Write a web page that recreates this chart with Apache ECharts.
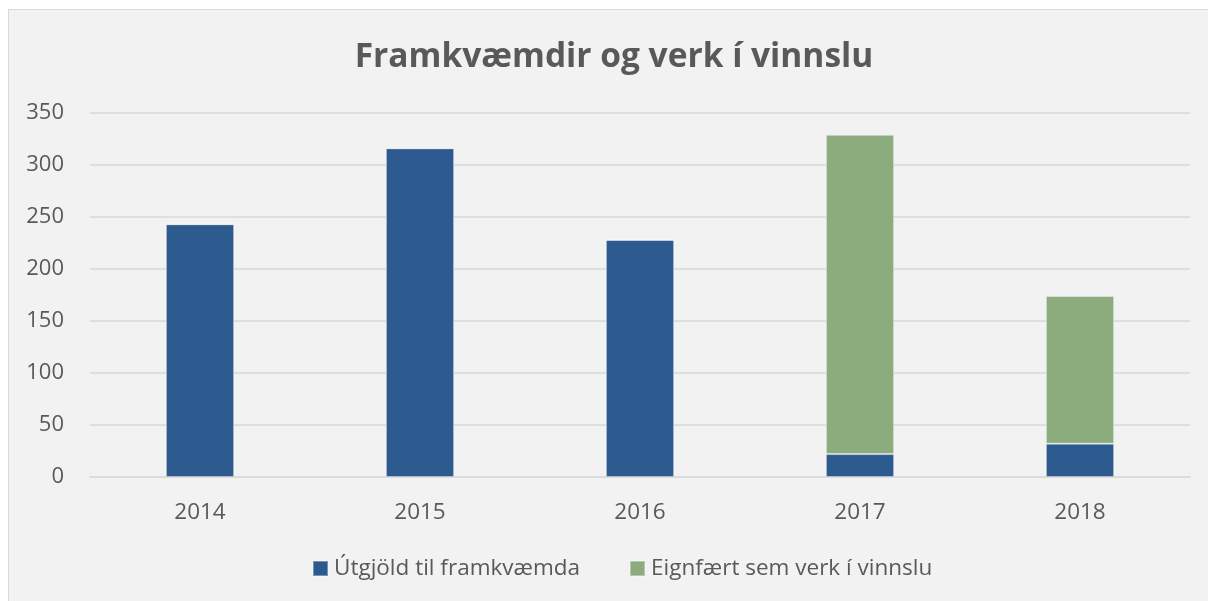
<!DOCTYPE html>
<html>
<head>
<meta charset="utf-8">
<script src="https://cdn.jsdelivr.net/npm/echarts@6/dist/echarts.min.js"></script>
<style>
  html, body { margin: 0; padding: 0; background: #fff; overflow: hidden; }
  #frame { position: absolute; left: 8px; top: 9px; width: 1300px; height: 700px;
           background: #f2f2f2; border: 1px solid #d9d9d9; }
  #chart { position: absolute; left: 0; top: 0; width: 1208px; height: 601px; }
</style>
</head>
<body>
<div id="frame"></div>
<div id="chart"></div>
<script>
(function() {
    var years = ['2014', '2015', '2016', '2017', '2018'];
    var utgjold = [243, 316, 228, 22, 32];       // Útgjöld til framkvæmda
    var eignfaert = [0, 0, 0, 307, 142];          // Eignfært sem verk í vinnslu
    var yTicks = [0, 50, 100, 150, 200, 250, 300, 350];

    var font = '"Open Sans", "Noto Sans", sans-serif';
    var myChart = echarts.init(document.getElementById('chart'), null, { renderer: 'canvas' });

    var option = {
        backgroundColor: 'transparent',
        textStyle: { fontFamily: font },
        title: {
            text: 'Framkvæmdir og verk í vinnslu',
            left: 609,
            textAlign: 'center',
            top: 35,
            textStyle: { fontSize: 33.5, fontWeight: 'bold', color: '#595959', fontFamily: font }
        },
        legend: {
            left: 307,
            top: 552,
            itemWidth: 15,
            itemHeight: 15,
            itemGap: 49,
            icon: 'rect',
            textStyle: { fontSize: 22.5, color: '#595959', fontFamily: font, padding: [0, 0, 0, 1] }
        },
        grid: { left: 90, right: 18, top: 113, bottom: 124 },
        xAxis: {
            type: 'category',
            data: years,
            axisTick: { show: false },
            axisLine: { lineStyle: { color: '#d9d9d9', width: 1.5 } },
            axisLabel: { fontSize: 22.5, color: '#595959', margin: 24 }
        },
        yAxis: {
            type: 'value',
            min: yTicks[0],
            max: yTicks[yTicks.length - 1],
            interval: 50,
            axisLine: { show: false },
            axisTick: { show: false },
            splitLine: { lineStyle: { color: '#d9d9d9', width: 1.5 } },
            axisLabel: { fontSize: 22, color: '#595959', margin: 26 }
        },
        series: [{
            name: 'Útgjöld til framkvæmda',
            type: 'bar',
            stack: 'total',
            barWidth: '31%',
            itemStyle: { color: '#2d5a8e', borderColor: 'rgba(255,255,255,0.35)', borderWidth: 1 },
            data: utgjold
        }, {
            name: 'Eignfært sem verk í vinnslu',
            type: 'bar',
            stack: 'total',
            barWidth: '31%',
            itemStyle: { color: '#8dac7e', borderColor: 'rgba(255,255,255,0.35)', borderWidth: 1 },
            data: eignfaert
        }]
    };

    myChart.setOption(option);
})();
</script>
</body>
</html>
